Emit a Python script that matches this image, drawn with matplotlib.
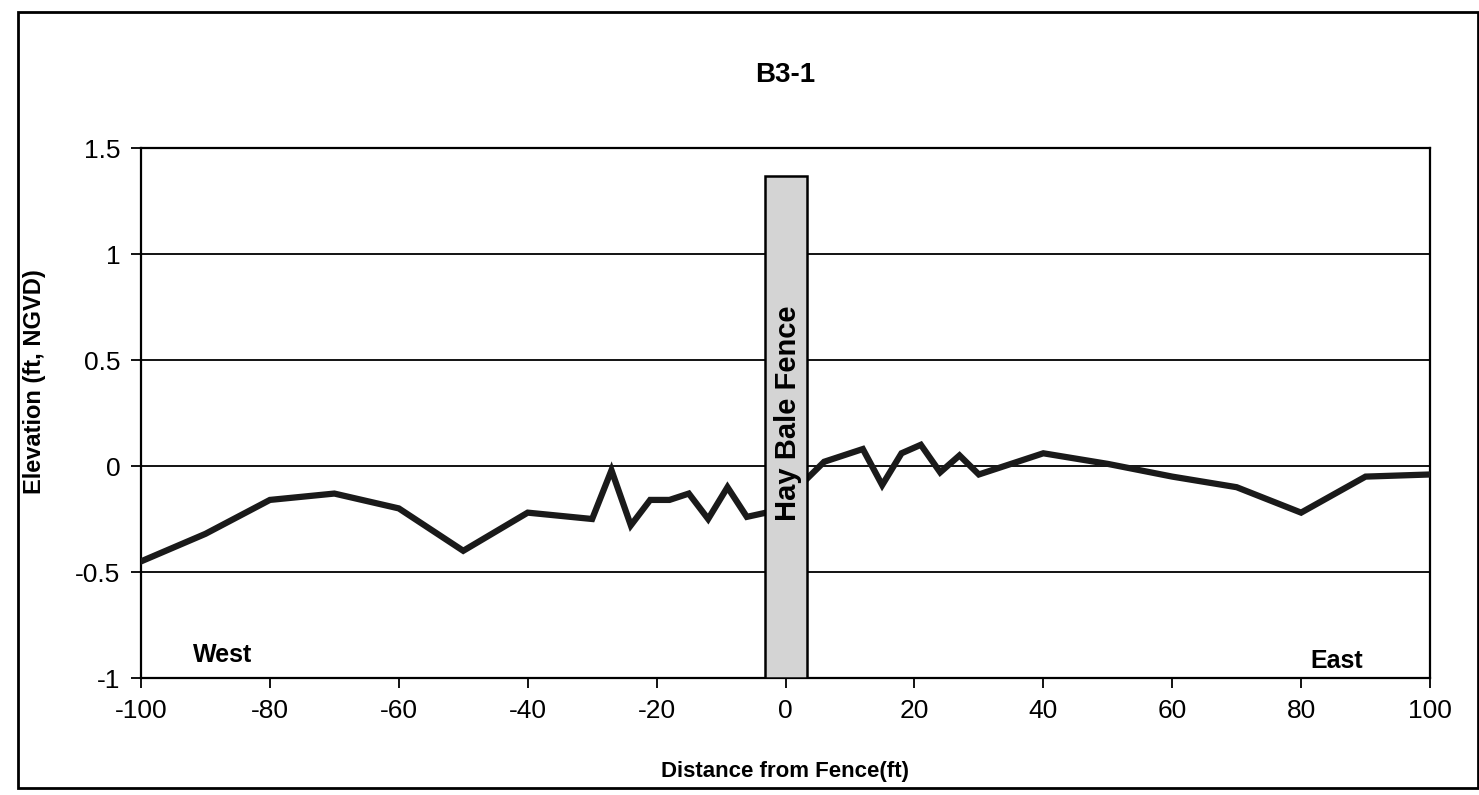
import numpy as np
import matplotlib.pyplot as plt
from matplotlib.patches import Rectangle

plt.rcParams['font.family'] = ['Liberation Sans', 'DejaVu Sans']

# ---------- Data ----------
distance = [-100, -90, -80, -70, -60, -50, -40, -30, -27, -24, -21, -18, -15,
            -12, -9, -6, -3, 3, 6, 12, 15, 18, 21, 24, 27, 30, 40, 50, 60,
            70, 80, 90, 100]
elevation = [-0.45, -0.32, -0.16, -0.13, -0.2, -0.4, -0.22, -0.25, -0.02,
             -0.28, -0.16, -0.16, -0.13, -0.25, -0.1, -0.24, -0.22, -0.07,
             0.02, 0.08, -0.09, 0.06, 0.1, -0.03, 0.05, -0.04, 0.06, 0.01,
             -0.05, -0.1, -0.22, -0.05, -0.04]
x_ticks = [-100, -80, -60, -40, -20, 0, 20, 40, 60, 80, 100]
y_ticks = [-1, -0.5, 0, 0.5, 1, 1.5]
y_tick_labels = ["-1", "-0.5", "0", "0.5", "1", "1.5"]
fence_x = (-3.2, 3.3)
fence_top = 1.37

# ---------- Figure ----------
W, H = 1479, 795
fig = plt.figure(figsize=(W / 100, H / 100), dpi=100)
ax = fig.add_axes([141 / W, 1 - 678 / H, (1430 - 141) / W, (678 - 148) / H])

ax.plot(distance, elevation, color="#1a1a1a", lw=4.5, solid_joinstyle="miter", zorder=3)

# fence bar
ax.add_patch(Rectangle((fence_x[0], -1), fence_x[1] - fence_x[0], fence_top + 1,
                       facecolor="#d4d4d4", edgecolor="black", lw=1.8, zorder=4))
ax.text((fence_x[0] + fence_x[1]) / 2 + 0.3, 0.25, "Hay Bale Fence", rotation=90,
        ha="center", va="center", fontsize=21, fontweight="bold", zorder=5)

ax.set_xlim(-100, 100)
ax.set_ylim(-1, 1.5)
ax.set_xticks(x_ticks)
ax.set_xticklabels([str(t) for t in x_ticks])
ax.set_yticks(y_ticks)
ax.set_yticklabels(y_tick_labels)
ax.grid(axis="y", color="black", lw=1.3)
ax.set_axisbelow(True)
for s in ax.spines.values():
    s.set_linewidth(1.6)
ax.tick_params(direction="out", length=7, width=1.3, labelsize=19, pad=8)

ax.text(-92, -0.89, "West", fontsize=18, fontweight="bold", va="center")
ax.text(81.5, -0.92, "East", fontsize=18, fontweight="bold", va="center")

fig.text(785 / W, 1 - 771 / H, "Distance from Fence(ft)", ha="center", va="center",
         fontsize=16, fontweight="bold")
fig.text(35 / W, 1 - 382 / H, "Elevation (ft, NGVD)", ha="center", va="center",
         rotation=90, fontsize=17, fontweight="bold")
fig.text(785 / W, 1 - 75 / H, "B3-1", ha="center", va="center",
         fontsize=20, fontweight="bold")

# outer border
fig.add_artist(Rectangle((18 / W, 7 / H), 1 - 19 / W, 1 - 19 / H,
                         transform=fig.transFigure, fill=False,
                         edgecolor="black", lw=2))

fig.savefig("out.png", dpi=100)
